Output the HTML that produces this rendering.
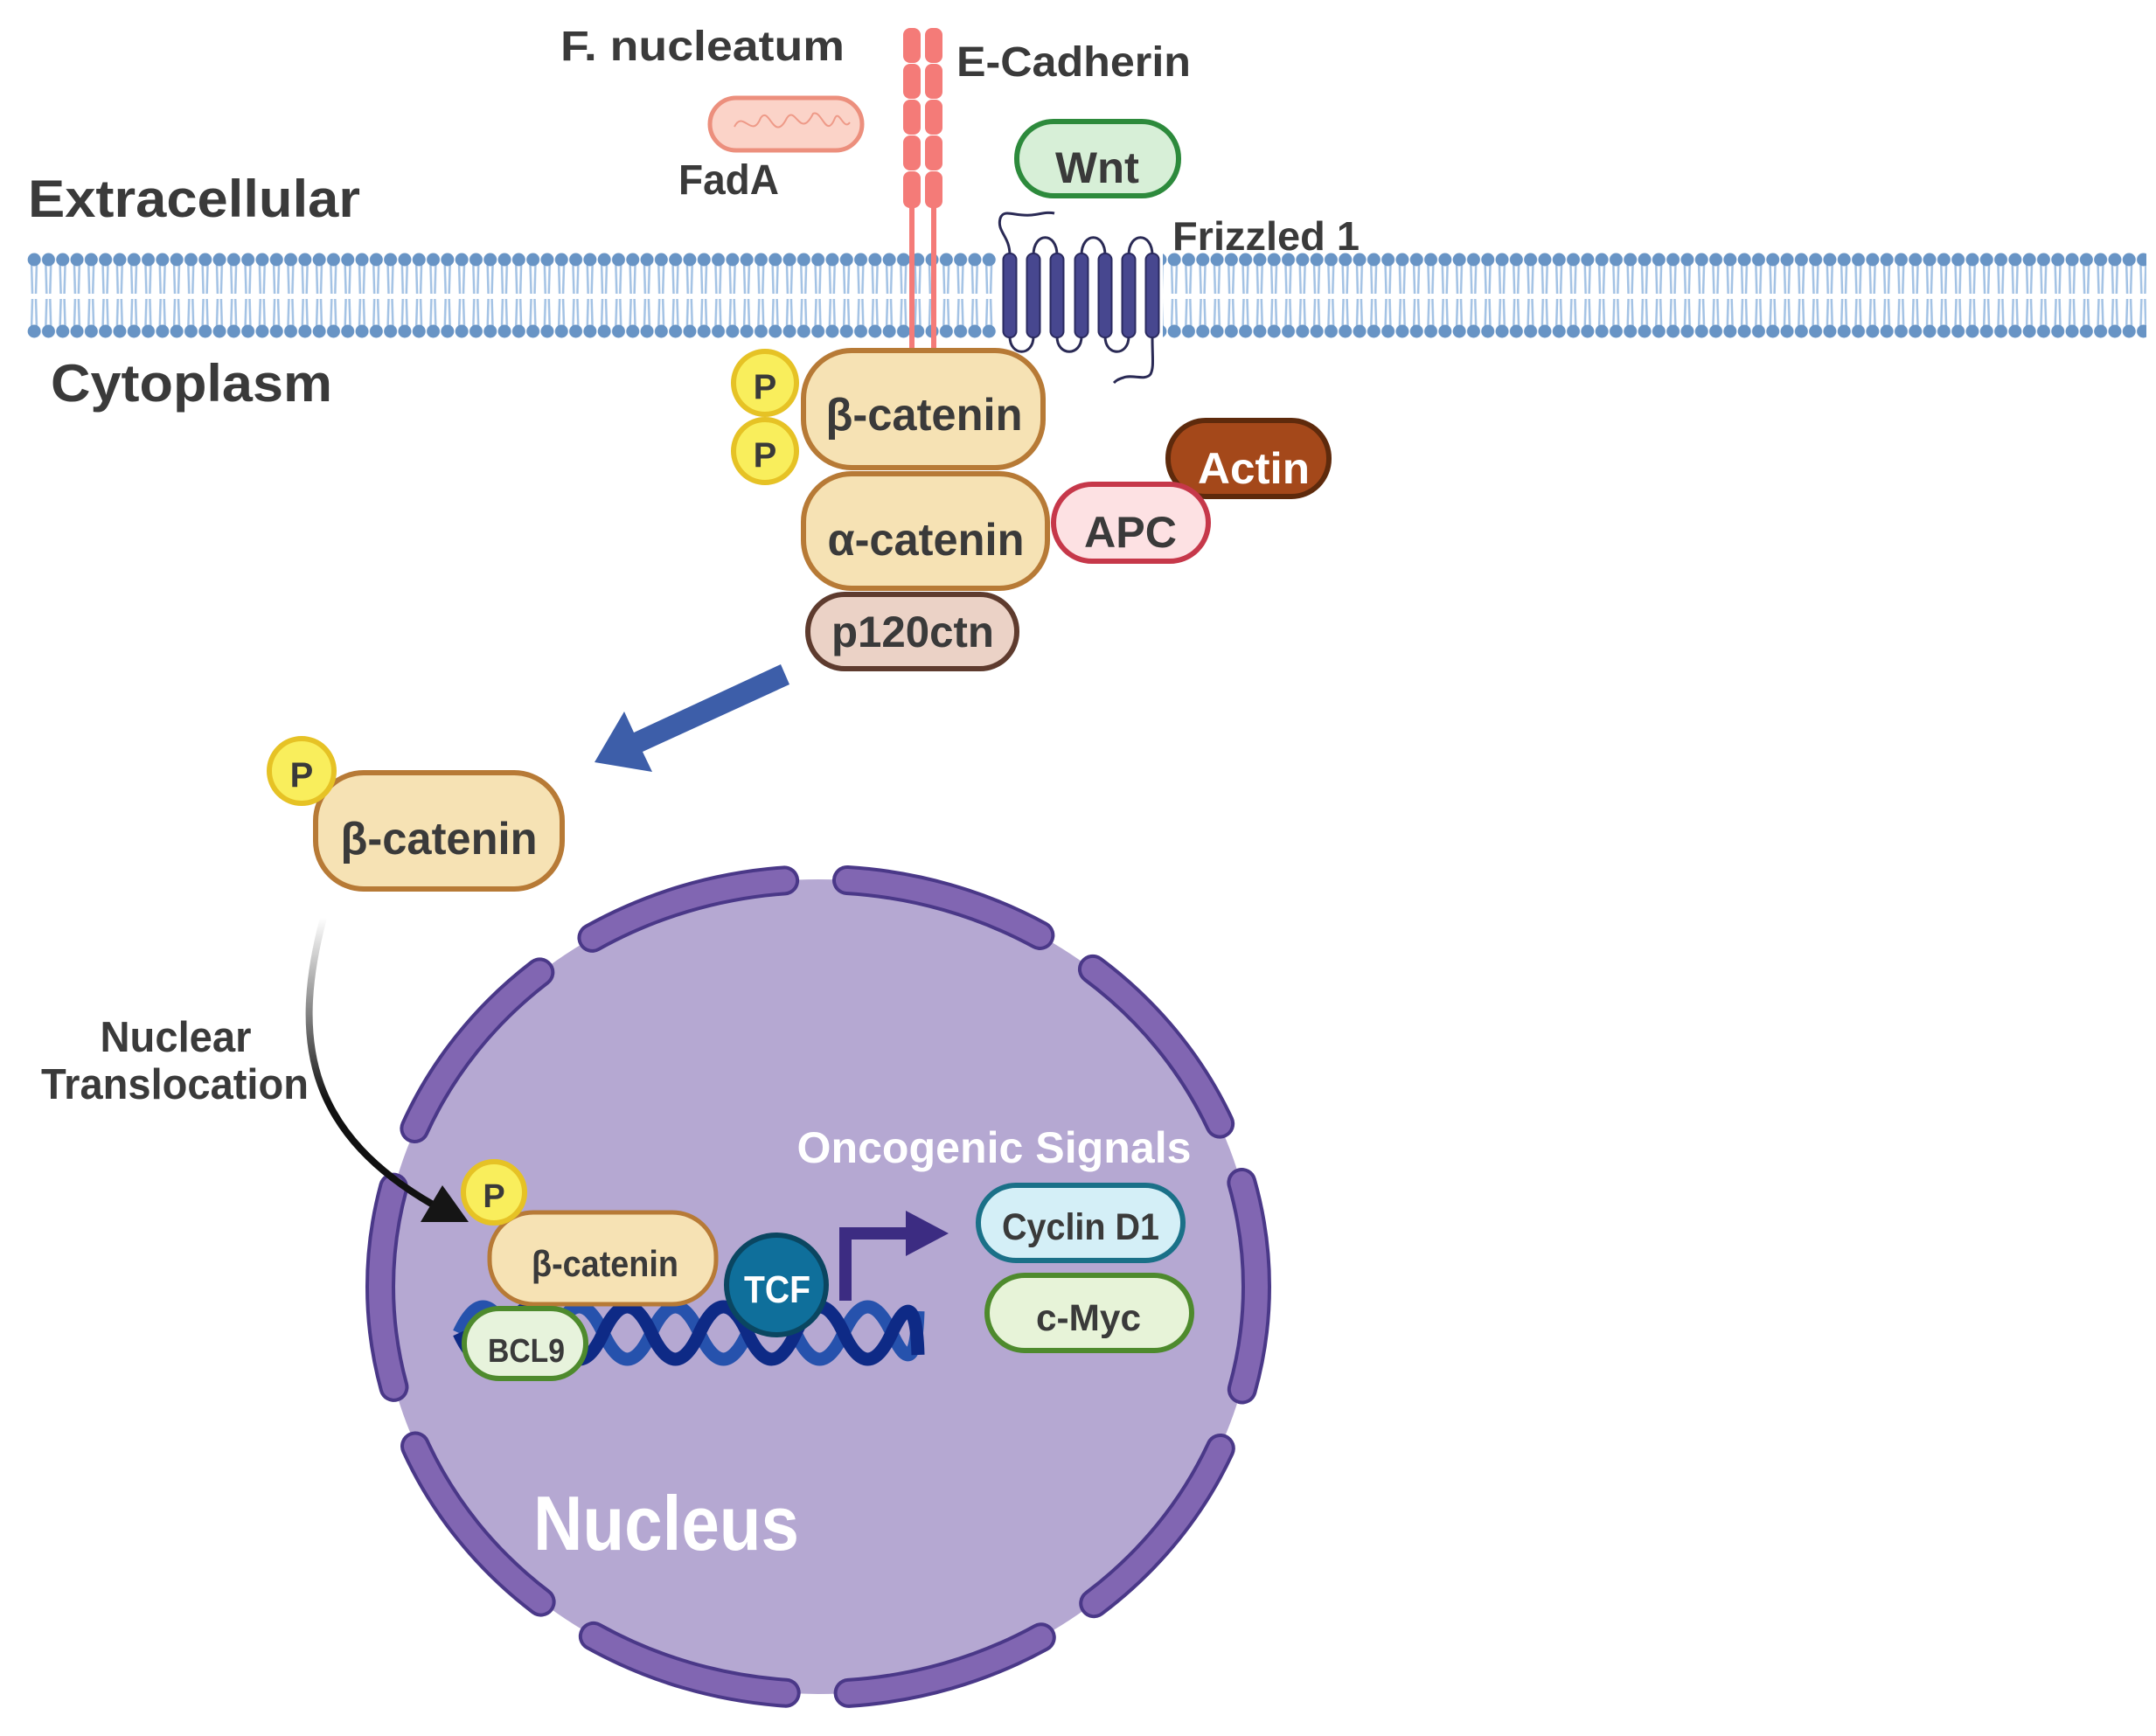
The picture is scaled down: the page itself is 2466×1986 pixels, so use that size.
<!DOCTYPE html>
<html><head><meta charset="utf-8"><style>
html,body{margin:0;padding:0;background:#fff;}
svg{display:block;}
text{font-family:"Liberation Sans",Arial,sans-serif;font-weight:bold;fill:#3a3a3a;}
</style></head><body>
<svg width="2466" height="1986" viewBox="0 0 2466 1986" xmlns="http://www.w3.org/2000/svg">
<defs>
<pattern id="mem" x="31" y="0" width="16.3" height="2000" patternUnits="userSpaceOnUse">
<line x1="5" y1="300" x2="6" y2="336" stroke="#a3c2e4" stroke-width="2.5"/>
<line x1="11" y1="300" x2="10" y2="336" stroke="#a3c2e4" stroke-width="2.5"/>
<line x1="6" y1="342" x2="5" y2="376" stroke="#a3c2e4" stroke-width="2.5"/>
<line x1="10" y1="342" x2="11" y2="376" stroke="#a3c2e4" stroke-width="2.5"/>
<circle cx="8.15" cy="297" r="7.5" fill="#6894c5"/>
<circle cx="8.15" cy="379" r="7.5" fill="#6894c5"/>
</pattern>
<linearGradient id="ga" x1="0" y1="1050" x2="0" y2="1260" gradientUnits="userSpaceOnUse">
<stop offset="0" stop-color="#fff"/><stop offset="1" stop-color="#111"/>
</linearGradient>
</defs>

<rect x="31" y="285" width="2424" height="104" fill="url(#mem)"/>
<rect x="1140" y="286" width="190" height="102" fill="#fff"/>

<g fill="#f47b78">
<rect x="1040" y="200" width="6" height="206"/>
<rect x="1065" y="200" width="6" height="206"/>
<rect x="1033" y="32" width="20" height="40" rx="8"/><rect x="1033" y="73" width="20" height="40" rx="8"/><rect x="1033" y="114" width="20" height="40" rx="8"/><rect x="1033" y="155" width="20" height="40" rx="8"/><rect x="1033" y="196" width="20" height="42" rx="8"/>
<rect x="1058" y="32" width="20" height="40" rx="8"/><rect x="1058" y="73" width="20" height="40" rx="8"/><rect x="1058" y="114" width="20" height="40" rx="8"/><rect x="1058" y="155" width="20" height="40" rx="8"/><rect x="1058" y="196" width="20" height="42" rx="8"/>
</g>

<g fill="none" stroke="#2a2a55" stroke-width="3">
<path d="M1155 292 C1155 270 1140 265 1144 250 C1148 238 1160 248 1180 246 C1190 245 1198 242 1206 244"/>
<path d="M1182 292 C1182 265 1209 265 1209 292"/>
<path d="M1237 292 C1237 265 1264 265 1264 292"/>
<path d="M1291 292 C1291 265 1318 265 1318 292"/>
<path d="M1155 385 C1155 408 1182 408 1182 385"/>
<path d="M1209 385 C1209 408 1237 408 1237 385"/>
<path d="M1264 385 C1264 408 1291 408 1291 385"/>
<path d="M1318 385 C1318 410 1320 420 1316 428 C1310 436 1295 428 1285 432 C1278 434 1276 436 1274 438"/>
</g>
<g fill="#47478f" stroke="#2a2a60" stroke-width="2">
<rect x="1147.5" y="290" width="15" height="96" rx="7"/><rect x="1174.5" y="290" width="15" height="96" rx="7"/><rect x="1201.5" y="290" width="15" height="96" rx="7"/><rect x="1229.5" y="290" width="15" height="96" rx="7"/><rect x="1256.5" y="290" width="15" height="96" rx="7"/><rect x="1283.5" y="290" width="15" height="96" rx="7"/><rect x="1310.5" y="290" width="15" height="96" rx="7"/>
</g>

<rect x="812" y="112" width="174" height="60" rx="30" fill="#fbd3c8" stroke="#ec8f7d" stroke-width="5"/>
<path d="M840 145 C850 125 860 160 870 135 C880 120 885 165 900 135 C910 120 915 160 930 130 C940 125 945 160 955 135 C960 125 965 150 972 140" fill="none" stroke="#ee9a88" stroke-width="2"/>

<rect x="1163" y="139" width="185" height="85" rx="42" fill="#d7efd7" stroke="#2d8a3c" stroke-width="6"/>
<text x="1255" y="209" font-size="50" text-anchor="middle" textLength="96" lengthAdjust="spacingAndGlyphs">Wnt</text>

<text x="32" y="248" font-size="60" textLength="380" lengthAdjust="spacingAndGlyphs">Extracellular</text>
<text x="58" y="459" font-size="60" textLength="322" lengthAdjust="spacingAndGlyphs">Cytoplasm</text>
<text x="641" y="69" font-size="48" textLength="325" lengthAdjust="spacingAndGlyphs">F. nucleatum</text>
<text x="1094" y="87" font-size="48" textLength="268" lengthAdjust="spacingAndGlyphs">E-Cadherin</text>
<text x="776" y="222" font-size="48" textLength="115" lengthAdjust="spacingAndGlyphs">FadA</text>
<text x="1341" y="286" font-size="46" textLength="214" lengthAdjust="spacingAndGlyphs">Frizzled 1</text>

<rect x="1336" y="481" width="184" height="87" rx="43" fill="#a4481a" stroke="#5e2a0c" stroke-width="6"/>
<text x="1434" y="553" font-size="50" text-anchor="middle" style="fill:#fff" textLength="128" lengthAdjust="spacingAndGlyphs">Actin</text>
<rect x="1205" y="554" width="177" height="88" rx="44" fill="#fde1e3" stroke="#c6384a" stroke-width="6"/>
<text x="1293" y="626" font-size="50" text-anchor="middle" textLength="106" lengthAdjust="spacingAndGlyphs">APC</text>
<rect x="919" y="401" width="274" height="134" rx="55" fill="#f6e2b4" stroke="#b77a36" stroke-width="6"/>
<text x="1057" y="492" font-size="52" text-anchor="middle" textLength="225" lengthAdjust="spacingAndGlyphs">β-catenin</text>
<rect x="919" y="542" width="279" height="131" rx="55" fill="#f6e2b4" stroke="#b77a36" stroke-width="6"/>
<text x="1059" y="635" font-size="52" text-anchor="middle" textLength="225" lengthAdjust="spacingAndGlyphs">α-catenin</text>
<rect x="924" y="680" width="239" height="85" rx="42" fill="#ebd2c6" stroke="#5e3b2e" stroke-width="6"/>
<text x="1044" y="740" font-size="50" text-anchor="middle" textLength="186" lengthAdjust="spacingAndGlyphs">p120ctn</text>
<circle cx="875" cy="438" r="36" fill="#f9ee5c" stroke="#e6c225" stroke-width="6"/>
<text x="875" y="456" font-size="40" text-anchor="middle">P</text>
<circle cx="875" cy="516" r="36" fill="#f9ee5c" stroke="#e6c225" stroke-width="6"/>
<text x="875" y="534" font-size="40" text-anchor="middle">P</text>

<polygon points="893,760 725,838 714,814 680,872 746,883 735,860 903,783" fill="#3d5ea9"/>

<rect x="361" y="884" width="282" height="133" rx="55" fill="#f6e2b4" stroke="#b77a36" stroke-width="6"/>
<text x="502" y="977" font-size="52" text-anchor="middle" textLength="225" lengthAdjust="spacingAndGlyphs">β-catenin</text>
<circle cx="345" cy="882" r="37" fill="#f9ee5c" stroke="#e6c225" stroke-width="6"/>
<text x="345" y="900" font-size="40" text-anchor="middle">P</text>

<text x="201" y="1203" font-size="49" text-anchor="middle" textLength="173" lengthAdjust="spacingAndGlyphs">Nuclear</text>
<text x="200" y="1257" font-size="49" text-anchor="middle" textLength="306" lengthAdjust="spacingAndGlyphs">Translocation</text>

<ellipse cx="936" cy="1472" rx="500" ry="466" fill="#b5a8d2"/>
<ellipse cx="936" cy="1472" rx="501" ry="466" fill="none" stroke="#4a3888" stroke-width="34" stroke-linecap="round" stroke-dasharray="231 72" stroke-dashoffset="112"/>
<ellipse cx="936" cy="1472" rx="501" ry="466" fill="none" stroke="#8166b2" stroke-width="26" stroke-linecap="round" stroke-dasharray="231 72" stroke-dashoffset="112"/>

<path d="M370 1050 C330 1200 360 1300 495 1378" fill="none" stroke="url(#ga)" stroke-width="8"/>
<polygon points="536,1398 481,1398 506,1356" fill="#151515"/>

<text x="1137" y="1330" font-size="50" text-anchor="middle" style="fill:#fff" textLength="451" lengthAdjust="spacingAndGlyphs">Oncogenic Signals</text>
<text x="762" y="1773" font-size="88" text-anchor="middle" style="fill:#fff" textLength="304" lengthAdjust="spacingAndGlyphs">Nucleus</text>

<path d="M525 1525 q27.5 -60 55 0 t55 0 t55 0 t55 0 t55 0 t55 0 t55 0 t55 0 t55 0 t30 -25" fill="none" stroke="#2652ad" stroke-width="15"/>
<path d="M525 1525 q27.5 60 55 0 t55 0 t55 0 t55 0 t55 0 t55 0 t55 0 t55 0 t55 0 t30 25" fill="none" stroke="#0e2a86" stroke-width="15"/>

<path d="M967 1488 V1411 H1040" fill="none" stroke="#3c2c82" stroke-width="14"/>
<polygon points="1036,1385 1085,1411 1036,1437" fill="#3c2c82"/>

<rect x="560" y="1387" width="259" height="105" rx="50" fill="#f6e2b4" stroke="#b77a36" stroke-width="5"/>
<text x="692" y="1460" font-size="42" text-anchor="middle" textLength="168" lengthAdjust="spacingAndGlyphs">β-catenin</text>
<circle cx="565" cy="1364" r="35" fill="#f9ee5c" stroke="#e6c225" stroke-width="6"/>
<text x="565" y="1381" font-size="38" text-anchor="middle">P</text>
<rect x="531" y="1497" width="139" height="80" rx="40" fill="#e7f3dc" stroke="#4e8a2d" stroke-width="6"/>
<text x="602" y="1558" font-size="38" text-anchor="middle" textLength="88" lengthAdjust="spacingAndGlyphs">BCL9</text>
<circle cx="888" cy="1470" r="57" fill="#0f6f9b" stroke="#0a4661" stroke-width="6"/>
<text x="889" y="1490" font-size="44" text-anchor="middle" style="fill:#fff" textLength="76" lengthAdjust="spacingAndGlyphs">TCF</text>

<rect x="1119" y="1356" width="234" height="86" rx="43" fill="#d4eff7" stroke="#1a7088" stroke-width="6"/>
<text x="1236" y="1418" font-size="43" text-anchor="middle" textLength="180" lengthAdjust="spacingAndGlyphs">Cyclin D1</text>
<rect x="1129" y="1459" width="234" height="86" rx="43" fill="#e7f3d8" stroke="#4e8a2d" stroke-width="6"/>
<text x="1245" y="1522" font-size="43" text-anchor="middle" textLength="120" lengthAdjust="spacingAndGlyphs">c-Myc</text>
</svg>
</body></html>
